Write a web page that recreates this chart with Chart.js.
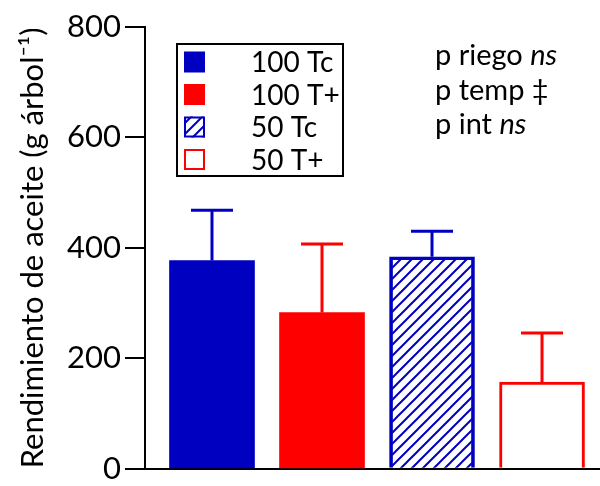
<!DOCTYPE html>
<html>
<head>
<meta charset="utf-8">
<script src="https://cdn.jsdelivr.net/npm/chart.js@4"></script>
<style>
  html, body { margin: 0; padding: 0; background: #fff; }
  #wrap { width: 600px; height: 486px; }
</style>
</head>
<body>
<div id="wrap"><canvas id="myChart"></canvas></div>
<script>
const labels = ['100 Tc', '100 T+', '50 Tc', '50 T+'];
const means = [377, 283, 384, 157];
const errors = [91, 124, 46, 89];
const yTicks = [0, 200, 400, 600, 800];
const notes = [['p riego ', 'ns'], ['p temp ‡', ''], ['p int ', 'ns']];

const BLUE = '#0000C0';
const RED = '#FF0000';
const FONT = 'Lato, "Open Sans", sans-serif';

function hatch(color) {
  const c = document.createElement('canvas');
  c.width = 11; c.height = 11;
  const g = c.getContext('2d');
  g.strokeStyle = color;
  g.lineWidth = 2;
  g.beginPath();
  g.moveTo(-1, 12); g.lineTo(12, -1);
  g.moveTo(-1, 1); g.lineTo(1, -1);
  g.moveTo(10, 12); g.lineTo(12, 10);
  g.stroke();
  return g.createPattern(c, 'repeat');
}
const blueHatch = hatch(BLUE);

const fills = [BLUE, RED, blueHatch, '#fff'];
const borders = [BLUE, RED, BLUE, RED];
const borderWidths = [0, 0, 3, 3];

const datasets = labels.map((lab, i) => ({
  label: lab,
  data: [{x: i, y: means[i]}],
  err: errors[i],
  backgroundColor: fills[i],
  borderColor: borders[i],
  borderWidth: borderWidths[i],
  borderSkipped: 'start',
  barThickness: 85,
  errColor: borders[i]
}));

// upward error bars with caps
const errorBars = {
  id: 'errorBars',
  afterDatasetsDraw(chart) {
    const ctx = chart.ctx, y = chart.scales.y;
    chart.data.datasets.forEach((ds, i) => {
      const bar = chart.getDatasetMeta(i).data[0];
      const top = y.getPixelForValue(ds.data[0].y + ds.err);
      ctx.save();
      ctx.strokeStyle = ds.errColor;
      ctx.lineWidth = 3;
      ctx.beginPath();
      ctx.moveTo(bar.x, bar.y);
      ctx.lineTo(bar.x, top);
      ctx.moveTo(bar.x - 21, top);
      ctx.lineTo(bar.x + 21, top);
      ctx.stroke();
      ctx.restore();
    });
  }
};

// boxed legend and p-value notes
const boxLegend = {
  id: 'boxLegend',
  afterDraw(chart) {
    const ctx = chart.ctx;
    ctx.save();
    ctx.strokeStyle = '#000';
    ctx.lineWidth = 2;
    ctx.strokeRect(177, 44, 166, 132);
    ctx.font = '28px ' + FONT;
    ctx.textBaseline = 'middle';
    chart.data.datasets.forEach((ds, i) => {
      const cy = 62 + i * 32.5;
      const sx = 184, sy = cy - 10.5;
      ctx.fillStyle = ds.backgroundColor;
      ctx.fillRect(sx, sy, 21, 21);
      if (ds.borderWidth) {
        ctx.strokeStyle = ds.borderColor;
        ctx.lineWidth = 2;
        ctx.strokeRect(sx + 1, sy + 1, 19, 19);
      }
      ctx.fillStyle = '#000';
      ctx.fillText(ds.label, 251, cy + 1);
    });
    notes.forEach((n, i) => {
      const cy = 56 + i * 34.5;
      ctx.font = '29px ' + FONT;
      ctx.fillText(n[0], 435, cy);
      const w = ctx.measureText(n[0]).width;
      ctx.font = 'italic 29px ' + FONT;
      ctx.fillText(n[1], 435 + w, cy);
    });
    ctx.restore();
  }
};

new Chart(document.getElementById('myChart'), {
  type: 'bar',
  data: { datasets },
  plugins: [errorBars, boxLegend],
  options: {
    responsive: true,
    maintainAspectRatio: false,
    animation: false,
    layout: { padding: { top: 27, right: 0, bottom: 14, left: 0 } },
    plugins: { legend: { display: false }, tooltip: { enabled: false } },
    datasets: { bar: { grouped: false } },
    scales: {
      x: {
        type: 'linear',
        offset: false,
        min: -0.609,
        max: 3.527,
        afterFit: s => { s.height = 0; },
        ticks: { display: false },
        grid: { display: false },
        border: { color: '#000', width: 2 }
      },
      y: {
        min: 0,
        max: 800,
        afterBuildTicks: s => { s.ticks = yTicks.map(v => ({value: v})); },
        afterFit: s => { s.width = 145; },
        ticks: { color: '#000', font: { size: 31, family: FONT, lineHeight: 0.85 }, padding: 4 },
        grid: { drawOnChartArea: false, drawTicks: true, tickLength: 20, color: '#000', lineWidth: 2 },
        border: { color: '#000', width: 2 },
        title: {
          display: true,
          text: 'Rendimiento de aceite (g árbol⁻¹)',
          color: '#000',
          font: { size: 31, family: FONT },
          padding: { top: 14, bottom: 0 }
        }
      }
    }
  }
});
</script>
</body>
</html>
